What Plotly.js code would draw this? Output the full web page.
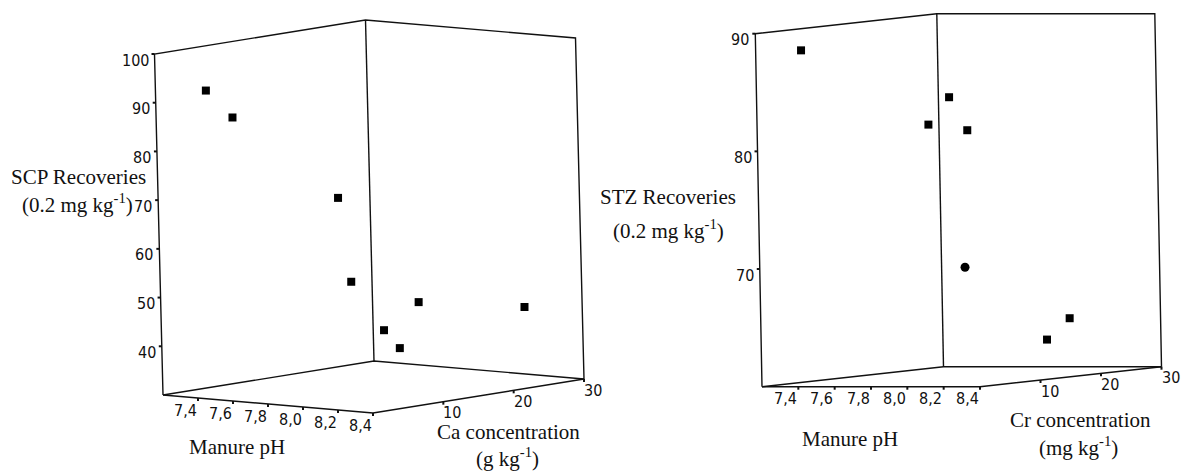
<!DOCTYPE html>
<html>
<head>
<meta charset="utf-8">
<script src="https://cdn.plot.ly/plotly-3.0.1.min.js"></script>
<style>
  html, body { margin: 0; padding: 0; background: #fff; }
  #chart { width: 1181px; height: 472px; }
</style>
</head>
<body>
<div id="chart"></div>
<script>
// ---- Data: SCP recoveries vs manure pH and Ca concentration ----
const scpPH  = [7.4, 7.5, 8.0, 8.1, 8.2, 8.3, 8.2, 8.3];
const scpCa  = [2.2, 3.4, 5.7, 4.8, 6.8, 6.5, 11.8, 24.3];
const scpRec = [92.6, 87.1, 71.6, 54.9, 44.8, 41.5, 49.4, 45.8];

// ---- Data: STZ recoveries vs manure pH and Cr concentration ----
const stzPH  = [7.4, 8.1, 8.2, 8.3, 8.3, 8.3];
const stzCr  = [1.5, 1.3, 1.8, 1.7, 14.2, 18.0];
const stzRec = [88.5, 82.2, 84.5, 81.7, 63.2, 64.8];
// sample drawn with a round marker
const stzRoundPH  = [8.3];
const stzRoundCr  = [0.9];
const stzRoundRec = [70.1];

// ---- Axis ranges and ticks ----
const phRange = [7.2, 8.4];
const phTicks = [7.4, 7.6, 7.8, 8.0, 8.2, 8.4];
const phTickText = ['7,4', '7,6', '7,8', '8,0', '8,2', '8,4'];
const concRange = [0, 30];
const concTicks = [10, 20, 30];
const concTickText = ['10', '20', '30'];
const scpRange = [30, 100];
const scpTicks = [40, 50, 60, 70, 80, 90, 100];
const scpTickText = ['40', '50', '60', '70', '80', '90', '100'];
const stzRange = [60, 90];
const stzTicks = [70, 80, 90];
const stzTickText = ['70', '80', '90'];

const SERIF = "'Liberation Serif', Tinos, 'Times New Roman', 'DejaVu Serif', 'Noto Serif', serif";
const NARROW = "'Liberation Sans Narrow', 'Arial Narrow', 'DejaVu Sans Condensed', 'Liberation Sans', Arial, sans-serif";
const INK = '#111';

// Oblique box projection for each panel: origin is the (pH min, conc min, z min) corner,
// the three vectors span the full range of pH, concentration and recovery on the page.
const panels = [
  {
    origin: [163, 395], pv: [210, 18], cv: [211, -34], zv: [-8.5, -341],
    zRange: scpRange, zTicks: scpTicks, zTickText: scpTickText,
    ph: scpPH, conc: scpCa, rec: scpRec,
    titles: [
      { text: 'SCP Recoveries', x: 147, y: 177, xanchor: 'right' },
      { text: '(0.2 mg kg<sup>-1</sup>)', x: 134, y: 203, xanchor: 'right' },
      { text: 'Manure pH', x: 237, y: 447, xanchor: 'center' },
      { text: 'Ca concentration', x: 508, y: 432, xanchor: 'center' },
      { text: '(g kg<sup>-1</sup>)', x: 507, y: 457, xanchor: 'center' }
    ]
  },
  {
    origin: [762, 386.7], pv: [218, 0], cv: [181.5, -20], zv: [-6.7, -353],
    zRange: stzRange, zTicks: stzTicks, zTickText: stzTickText,
    ph: stzPH, conc: stzCr, rec: stzRec,
    round: { ph: stzRoundPH, conc: stzRoundCr, rec: stzRoundRec },
    titles: [
      { text: 'STZ Recoveries', x: 668, y: 197, xanchor: 'center' },
      { text: '(0.2 mg kg<sup>-1</sup>)', x: 668, y: 229, xanchor: 'center' },
      { text: 'Manure pH', x: 850, y: 439, xanchor: 'center' },
      { text: 'Cr concentration', x: 1080, y: 420, xanchor: 'center' },
      { text: '(mg kg<sup>-1</sup>)', x: 1078, y: 446, xanchor: 'center' }
    ]
  }
];

function projector(p) {
  return function (ph, c, z) {
    const a = (ph - phRange[0]) / (phRange[1] - phRange[0]);
    const b = (c - concRange[0]) / (concRange[1] - concRange[0]);
    const h = (z - p.zRange[0]) / (p.zRange[1] - p.zRange[0]);
    return [
      p.origin[0] + a * p.pv[0] + b * p.cv[0] + h * p.zv[0],
      p.origin[1] + a * p.pv[1] + b * p.cv[1] + h * p.zv[1]
    ];
  };
}

const traces = [];
const annotations = [];

function polyTrace(paths, width) {
  const xs = [], ys = [];
  paths.forEach(path => {
    path.forEach(pt => { xs.push(pt[0]); ys.push(pt[1]); });
    xs.push(null); ys.push(null);
  });
  return {
    type: 'scatter', mode: 'lines', x: xs, y: ys,
    line: { color: INK, width: width }, hoverinfo: 'skip', cliponaxis: false
  };
}

function label(text, x, y, xanchor, font) {
  annotations.push({
    text: text, x: x, y: y, xref: 'x', yref: 'y',
    xanchor: xanchor, yanchor: 'middle', showarrow: false,
    font: font, borderpad: 0
  });
}

panels.forEach(p => {
  const P = projector(p);
  const z0 = p.zRange[0], z1 = p.zRange[1];
  const pLo = phRange[0], pHi = phRange[1];
  const cLo = concRange[0], cHi = concRange[1];

  const L = P(pLo, cLo, z0), F = P(pHi, cLo, z0), R = P(pHi, cHi, z0), B = P(pLo, cHi, z0);
  const Lt = P(pLo, cLo, z1), Bt = P(pLo, cHi, z1), Rt = P(pHi, cHi, z1);

  // box: floor, back walls and the recovery axis edge
  traces.push(polyTrace([[L, F, R], [L, B, R], [L, Lt, Bt, Rt, R], [B, Bt]], 1.4));

  // tick marks
  const ticks = [];
  phTicks.forEach(v => { const q = P(v, cLo, z0); ticks.push([q, [q[0], q[1] + 3]]); });
  concTicks.forEach(v => { const q = P(pHi, v, z0); ticks.push([q, [q[0], q[1] + 3]]); });
  p.zTicks.forEach(v => { const q = P(pLo, cLo, v); ticks.push([q, [q[0] - 3, q[1]]]); });
  traces.push(polyTrace(ticks, 2));

  // tick labels
  const tf = { family: NARROW, size: 16, color: INK };
  phTicks.forEach((v, i) => { const q = P(v, cLo, z0); label(phTickText[i], q[0] - 13, q[1] + 12, 'center', tf); });
  concTicks.forEach((v, i) => { const q = P(pHi, v, z0); label(concTickText[i], q[0] + 9, q[1] + 11, 'center', tf); });
  p.zTicks.forEach((v, i) => { const q = P(pLo, cLo, v); label(p.zTickText[i], q[0] - 5, q[1] + 6, 'right', tf); });

  // axis titles
  const ttf = { family: SERIF, size: 21, color: INK };
  p.titles.forEach(t => label(t.text, t.x, t.y, t.xanchor, ttf));

  // samples
  const pts = p.ph.map((v, i) => P(v, p.conc[i], p.rec[i]));
  traces.push({
    type: 'scatter', mode: 'markers',
    x: pts.map(q => q[0]), y: pts.map(q => q[1]),
    marker: { symbol: 'square', size: 8, color: '#000' },
    hoverinfo: 'skip', cliponaxis: false
  });
  if (p.round) {
    const rp = p.round.ph.map((v, i) => P(v, p.round.conc[i], p.round.rec[i]));
    traces.push({
      type: 'scatter', mode: 'markers',
      x: rp.map(q => q[0]), y: rp.map(q => q[1]),
      marker: { symbol: 'circle', size: 9, color: '#000' },
      hoverinfo: 'skip', cliponaxis: false
    });
  }
});

const layout = {
  width: 1181, height: 472,
  margin: { l: 0, r: 0, t: 0, b: 0, pad: 0 },
  paper_bgcolor: '#fff', plot_bgcolor: '#fff',
  showlegend: false,
  xaxis: { range: [0, 1181], visible: false, fixedrange: true },
  yaxis: { range: [472, 0], visible: false, fixedrange: true },
  annotations: annotations
};

Plotly.newPlot('chart', traces, layout, { staticPlot: true, displayModeBar: false });
</script>
</body>
</html>
